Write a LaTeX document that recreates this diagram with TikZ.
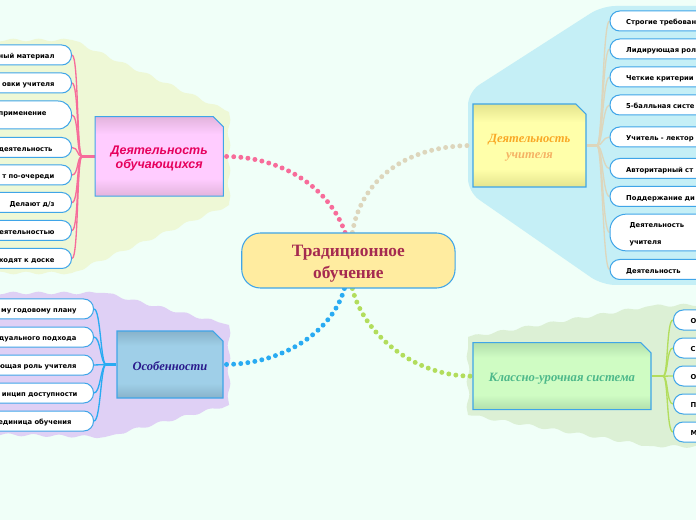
\documentclass[tikz,border=0pt]{standalone}
\usepackage{fontspec}
\setmainfont{Liberation Serif}
\setsansfont{Liberation Sans}
\newfontfamily\leaffont{DejaVu Sans}
\usetikzlibrary{shapes.misc,backgrounds,decorations.pathmorphing}

\definecolor{paper}{HTML}{F0FFF8}
\definecolor{rim}{HTML}{3FA5E8}
\definecolor{pinkline}{HTML}{F76C9A}
\definecolor{skyline}{HTML}{29ABF2}
\definecolor{tanline}{HTML}{DDD6BC}
\definecolor{limeline}{HTML}{B2DD5C}
\definecolor{pinklo}{HTML}{FFCCFF}
\definecolor{pinkhi}{HTML}{E2B4DC}
\definecolor{skylo}{HTML}{9FCFE8}
\definecolor{skyhi}{HTML}{88B2CA}
\definecolor{tanlo}{HTML}{FFFFAA}
\definecolor{tanhi}{HTML}{E4E48E}
\definecolor{limelo}{HTML}{CFFCC3}
\definecolor{limehi}{HTML}{B2DFAC}

\pgfdeclareverticalshading{pinkshade}{100bp}{color(0bp)=(pinkhi); color(25bp)=(pinkhi); color(36bp)=(pinklo); color(64bp)=(pinklo); color(75bp)=(pinkhi); color(100bp)=(pinkhi)}
\pgfdeclareverticalshading{skyshade}{100bp}{color(0bp)=(skyhi); color(25bp)=(skyhi); color(36bp)=(skylo); color(64bp)=(skylo); color(75bp)=(skyhi); color(100bp)=(skyhi)}
\pgfdeclareverticalshading{tanshade}{100bp}{color(0bp)=(tanhi); color(25bp)=(tanhi); color(36bp)=(tanlo); color(64bp)=(tanlo); color(75bp)=(tanhi); color(100bp)=(tanhi)}
\pgfdeclareverticalshading{limeshade}{100bp}{color(0bp)=(limehi); color(25bp)=(limehi); color(36bp)=(limelo); color(64bp)=(limelo); color(75bp)=(limehi); color(100bp)=(limehi)}

\tikzset{
  leaf/.style={draw=rim,fill=white,line width=0.75pt,rounded corners=7.3pt,minimum height=15pt,
    text width=150pt,inner ysep=0pt,text height=6.5pt,text depth=1.1pt,font=\leaffont\bfseries\fontsize{5.1}{12.75}\selectfont},
  leafleft/.style={leaf,anchor=east,align=right},
  leafright/.style={leaf,anchor=west,align=left},
  topic/.style={chamfered rectangle,chamfered rectangle corners=north east,
    chamfered rectangle xsep=3.8pt,chamfered rectangle ysep=3.8pt,draw=rim,line width=0.8pt,
    inner sep=0pt,align=center},
  blob/.style={decoration={snake,amplitude=1pt,segment length=19pt}},
  twig/.style={line width=1pt},
  stem/.style={line width=1.7pt},
  dots/.style={line width=3.7pt,line cap=round,dash pattern=on 0pt off 5.35pt},
}

\begin{document}
\begin{tikzpicture}[x=0.75pt,y=-0.75pt]
\useasboundingbox (0,0) rectangle (696,520);
\clip (0,0) rectangle (696,520);

% centre and topics
\node[draw=rim,line width=0.8pt,rounded corners=14pt,minimum width=160pt,minimum height=41.25pt,
  fill={rgb,255:red,255;green,236;blue,160},inner sep=0pt,align=center,text={rgb,255:red,165;green,42;blue,80},
  font=\bfseries\fontsize{13}{16.5}\selectfont] (centre) at (348.4,260.5) {\rule{0pt}{13pt}Традиционное\\обучение};
\node[topic,shading=pinkshade,minimum width=96.2pt,minimum height=59.6pt,
  font=\sffamily\bfseries\itshape\fontsize{9.35}{10.2}\selectfont,text={rgb,255:red,230;green,0;blue,92}]
  (pupils) at (159.2,156.4) {\rule{0pt}{9.5pt}Деятельность\\обучающихся};
\node[topic,shading=skyshade,minimum width=79.5pt,minimum height=50.25pt,
  font=\bfseries\itshape\fontsize{9.4}{12}\selectfont,text={rgb,255:red,42;green,26;blue,140}]
  (traits) at (170,364.5) {\rule{0pt}{8.5pt}Особенности};
\node[topic,shading=tanshade,minimum width=84.75pt,minimum height=62.25pt,
  font=\bfseries\itshape\fontsize{9.4}{12}\selectfont,text={rgb,255:red,249;green,168;blue,37}]
  (teacher) at (529.5,145.5) {\rule{0pt}{9pt}Деятельность\\\textcolor[RGB]{245,178,100}{учителя}};
\node[topic,shading=limeshade,minimum width=133.5pt,minimum height=50.25pt,
  font=\bfseries\itshape\fontsize{9.5}{12}\selectfont,text={rgb,255:red,77;green,184;blue,138}]
  (lessons) at (562,376.2) {\rule{0pt}{10pt}Классно-урочная система};

\coordinate (pupilhub) at (82,156.4);
\coordinate (traithub) at (106,364.5);
\coordinate (teachhub) at (597,145.5);
\coordinate (lessonhub) at (663,376.2);

% left leaves
\foreach \n/\y/\pad/\t in {a1/55/17/ный материал,a2/83/17/овки учителя,a4/147.5/19/деятельность,
  a5/175/17/т по-очереди,a6/202.5/17/{Делают д/з},a7/230.5/17/еятельностью,a8/258.5/17/ходят к доске} {
  \node[leafleft,inner xsep=0.75*\pad] (\n) at (72,\y) {\t};
}
\node[leafleft,inner xsep=18.75pt,minimum height=21pt,rounded corners=10pt] (a3) at (72,115) {\raisebox{2.2pt}{применение}};
\foreach \n/\y/\pad/\t in {b1/309/17/му годовому плану,b2/337/17/дуального подхода,b3/365/17/ющая роль учителя,
  b4/393/16/инцип доступности,b5/421/22/единица обучения} {
  \node[leafleft,inner xsep=0.75*\pad] (\n) at (94,\y) {\t};
}

% right leaves
\foreach \n/\y/\t in {c1/21/Строгие требован,c2/49/Лидирующая рол,c3/77/Четкие критерии,c4/105/5-балльная систе,
  c5/137/Учитель - лектор,c6/168.5/Авторитарный ст,c7/196.5/Поддержание ди,c9/269.5/Деятельность} {
  \node[leafright,inner xsep=12.1pt] (\n) at (609.5,\y) {\t};
}
\node[leafright,inner xsep=14.7pt,minimum height=27.5pt,rounded corners=12pt,text depth=14.6pt] (c8) at (609.5,232.5) {Деятельность\\учителя};
\foreach \n/\y/\t in {d1/320/О,d2/348/С,d3/376/О,d4/404/П,d5/432/М} {
  \node[leafright,inner xsep=12.75pt] (\n) at (673,\y) {\t};
}

\begin{scope}[on background layer]
\clip (0,0) rectangle (696,520);
\fill[paper] (0,0) rectangle (696,520);

% shaded areas
\fill[blob,fill={rgb,255:red,238;green,248;blue,214}] (-20,40) decorate {-- (72,40)} decorate {-- (229,112)} decorate {-- (229,205)} decorate {-- (72,273)} decorate {-- (-20,273)} -- cycle;
\fill[blob,fill={rgb,255:red,223;green,208;blue,245}] (-20,293) decorate {-- (105,293)} decorate {-- (229,325)} decorate {-- (229,405)} decorate {-- (105,437)} decorate {-- (-20,434)} -- cycle;
\fill[blob,fill={rgb,255:red,220;green,240;blue,213}] (468,337) decorate {-- (650,306)} decorate {-- (720,304)} -- (720,447) decorate {-- (650,446)} decorate {-- (468,415)} decorate {-- (468,337)} -- cycle;
\fill[rounded corners=10pt,fill={rgb,255:red,197;green,239;blue,246}] (720,6) -- (602,6) -- (468,92) -- (468,192) -- (602,285) -- (720,285) -- cycle;

% branches
\draw[stem,pinkline] (pupils.west) -- (pupilhub);
\foreach \n in {a1,a2,a3,a4,a5,a6,a7,a8} {
  \draw[twig,pinkline] (pupilhub) .. controls ([xshift=-4pt]pupilhub) and ([xshift=5pt]\n.east) .. (\n.east);
}
\draw[stem,skyline] (traits.west) -- (traithub);
\foreach \n in {b1,b2,b3,b4,b5} {
  \draw[twig,skyline] (traithub) .. controls ([xshift=-4pt]traithub) and ([xshift=5pt]\n.east) .. (\n.east);
}
\draw[stem,tanline] (teacher.east) -- (teachhub);
\foreach \n in {c1,c2,c3,c4,c5,c6,c7,c8,c9} {
  \draw[twig,tanline] (teachhub) .. controls ([xshift=4pt]teachhub) and ([xshift=-5pt]\n.west) .. (\n.west);
}
\draw[stem,limeline] (lessons.east) -- (lessonhub);
\foreach \n in {d1,d2,d3,d4,d5} {
  \draw[twig,limeline] (lessonhub) .. controls ([xshift=4pt]lessonhub) and ([xshift=-5pt]\n.west) .. (\n.west);
}

% dotted links to the centre
\draw[dots,pinkline] ([xshift=-2.5pt]centre.north) .. controls (330,190) and (285,156.4) .. (pupils.east);
\draw[dots,tanline] ([xshift=3pt]centre.north) .. controls (360,185) and (400,145.5) .. (teacher.west);
\draw[dots,skyline] ([xshift=-3pt]centre.south) .. controls (333,330) and (285,364.5) .. (traits.east);
\draw[dots,limeline] ([xshift=3pt]centre.south) .. controls (362,330) and (410,376.2) .. (lessons.west);
\end{scope}
\end{tikzpicture}
\end{document}
